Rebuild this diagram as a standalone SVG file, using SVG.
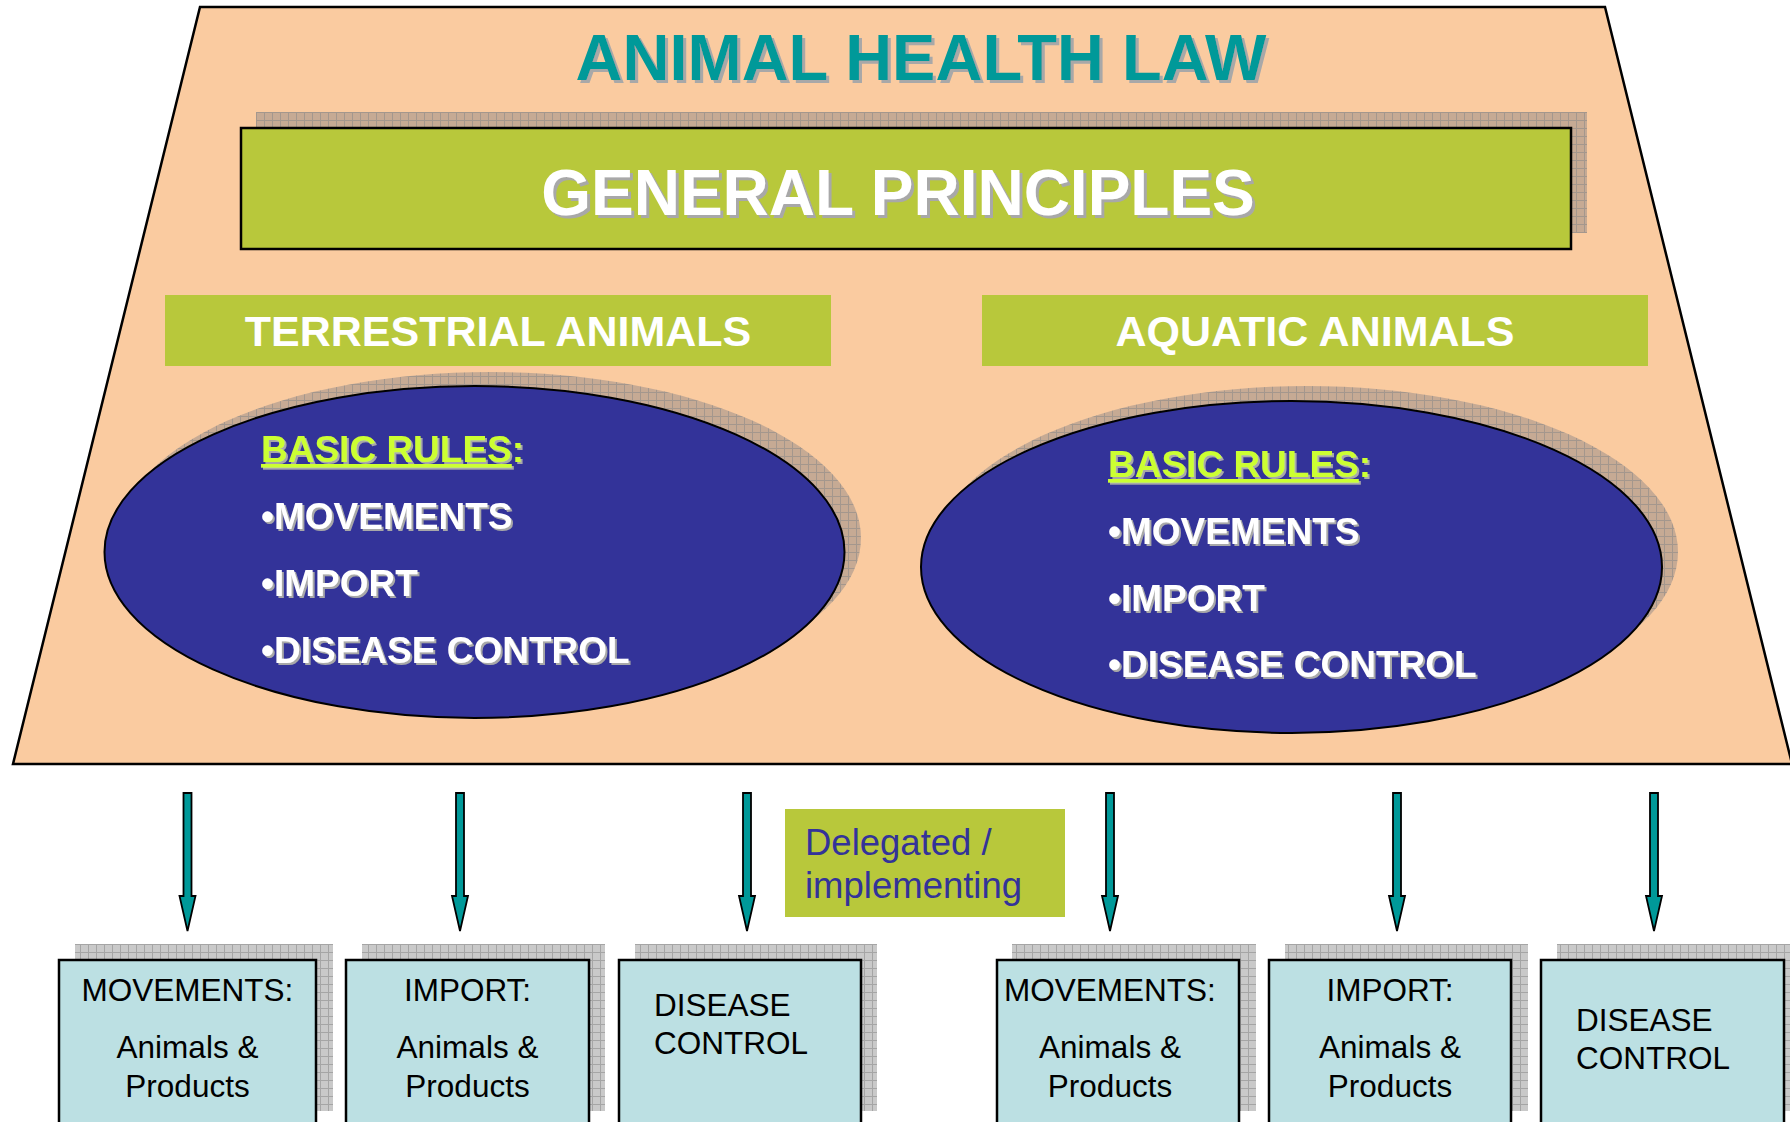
<svg xmlns="http://www.w3.org/2000/svg" width="1790" height="1122" viewBox="0 0 1790 1122">
<defs>
  <pattern id="pTan" width="8" height="8" patternUnits="userSpaceOnUse">
    <rect width="8" height="8" fill="#C6AA94"/>
    <path d="M0 0.5H8M0.5 0V8" stroke="#8E8A88" stroke-width="1" opacity="0.6"/>
  </pattern>
  <pattern id="pGray" width="8" height="8" patternUnits="userSpaceOnUse">
    <rect width="8" height="8" fill="#C9C9C9"/>
    <path d="M0 0.5H8M0.5 0V8" stroke="#8E8E8E" stroke-width="1" opacity="0.6"/>
  </pattern>
  <filter id="ts3" x="-5%" y="-20%" width="110%" height="140%">
    <feFlood flood-color="#A8A8A8"/>
    <feComposite in2="SourceAlpha" operator="in"/>
    <feOffset dx="3" dy="3" result="sh"/>
    <feMerge><feMergeNode in="sh"/><feMergeNode in="SourceGraphic"/></feMerge>
  </filter>
  <filter id="ts2" x="-5%" y="-20%" width="110%" height="140%">
    <feFlood flood-color="#A8A8A8"/>
    <feComposite in2="SourceAlpha" operator="in"/>
    <feOffset dx="2" dy="2" result="sh"/>
    <feMerge><feMergeNode in="sh"/><feMergeNode in="SourceGraphic"/></feMerge>
  </filter>
</defs>
<style>
  .b { font-family: "Liberation Sans", Arial, sans-serif; font-weight: bold; }
  .r { font-family: "Liberation Sans", Arial, sans-serif; }
  .white { fill: #FFFFFF; }
  .green { fill: #B8C83B; }
  .ell { fill: #333399; stroke: #000; stroke-width: 2; }
  .rule { font-size: 37px; fill: #FFFFFF; }
  .hdr { font-size: 37px; fill: #CCFF33; }
  .box { fill: #BCE0E3; stroke: #000; stroke-width: 2.5; }
  .btxt { font-size: 31.5px; fill: #000; }
  .arrow { fill: #009999; stroke: #000; stroke-width: 1.8; stroke-linejoin: miter; }
</style>
<rect width="1790" height="1122" fill="#FFFFFF"/>

<g id="law-frame">
  <polygon points="200,7 1605,7 1792,764 13,764" fill="#FACBA0" stroke="#000" stroke-width="2.5"/>
  <text class="b" x="921" y="80" font-size="65" fill="#009999" text-anchor="middle" filter="url(#ts3)">ANIMAL HEALTH LAW</text>
</g>

<g id="general-principles">
  <rect x="256" y="112" width="1331" height="121" fill="url(#pTan)"/>
  <rect x="241" y="128" width="1330" height="121" class="green" stroke="#000" stroke-width="2.5"/>
  <text class="b white" x="898" y="215" font-size="64" text-anchor="middle" filter="url(#ts3)">GENERAL PRINCIPLES</text>
</g>

<g id="terrestrial">
  <rect x="165" y="295" width="666" height="71" class="green"/>
  <text class="b white" x="498" y="346" font-size="43" text-anchor="middle">TERRESTRIAL ANIMALS</text>
</g>

<g id="aquatic">
  <rect x="982" y="295" width="666" height="71" class="green"/>
  <text class="b white" x="1315" y="346" font-size="43" text-anchor="middle">AQUATIC ANIMALS</text>
</g>

<g id="terrestrial-rules">
  <ellipse cx="490" cy="538" rx="371" ry="166" fill="url(#pTan)"/>
  <ellipse cx="474.5" cy="552" rx="370" ry="166" class="ell"/>
  <g filter="url(#ts2)">
    <text class="b hdr" x="261" y="462"><tspan text-decoration="underline">BASIC RULES</tspan>:</text>
    <text class="b rule" x="261" y="529">•MOVEMENTS</text>
    <text class="b rule" x="261" y="596">•IMPORT</text>
    <text class="b rule" x="261" y="663">•DISEASE CONTROL</text>
  </g>
</g>

<g id="aquatic-rules">
  <ellipse cx="1307" cy="552" rx="371" ry="166" fill="url(#pTan)"/>
  <ellipse cx="1291.5" cy="567" rx="370.5" ry="166" class="ell"/>
  <g filter="url(#ts2)">
    <text class="b hdr" x="1108" y="477"><tspan text-decoration="underline">BASIC RULES</tspan>:</text>
    <text class="b rule" x="1108" y="544">•MOVEMENTS</text>
    <text class="b rule" x="1108" y="611">•IMPORT</text>
    <text class="b rule" x="1108" y="677">•DISEASE CONTROL</text>
  </g>
</g>

<g id="delegated">
  <rect x="785" y="809" width="280" height="108" class="green"/>
  <text class="r" x="805" y="855" font-size="36.5" fill="#333399">Delegated /</text>
  <text class="r" x="805" y="898" font-size="36.5" fill="#333399">implementing</text>
</g>

<g id="connectors">
  <path class="arrow" d="M183.5 793H191.5V896H195.5L187.5 931L179.5 896H183.5Z"/>
  <path class="arrow" d="M456 793H464V896H468L460 931L452 896H456Z"/>
  <path class="arrow" d="M743 793H751V896H755L747 931L739 896H743Z"/>
  <path class="arrow" d="M1106 793H1114V896H1118L1110 931L1102 896H1106Z"/>
  <path class="arrow" d="M1393 793H1401V896H1405L1397 931L1389 896H1393Z"/>
  <path class="arrow" d="M1650 793H1658V896H1662L1654 931L1646 896H1650Z"/>
</g>

<g id="box-terr-movements">
  <rect x="75" y="944" width="258" height="167" fill="url(#pGray)"/>
  <rect x="59" y="960" width="257" height="170" class="box"/>
  <text class="r btxt" x="187.5" y="1001" text-anchor="middle">MOVEMENTS:</text>
  <text class="r btxt" x="187.5" y="1058" text-anchor="middle">Animals &amp;</text>
  <text class="r btxt" x="187.5" y="1097" text-anchor="middle">Products</text>
</g>

<g id="box-terr-import">
  <rect x="362" y="944" width="243" height="167" fill="url(#pGray)"/>
  <rect x="346" y="960" width="243" height="170" class="box"/>
  <text class="r btxt" x="467.5" y="1001" text-anchor="middle">IMPORT:</text>
  <text class="r btxt" x="467.5" y="1058" text-anchor="middle">Animals &amp;</text>
  <text class="r btxt" x="467.5" y="1097" text-anchor="middle">Products</text>
</g>

<g id="box-terr-disease">
  <rect x="635" y="944" width="242" height="167" fill="url(#pGray)"/>
  <rect x="619" y="960" width="242" height="170" class="box"/>
  <text class="r btxt" x="654" y="1016">DISEASE</text>
  <text class="r btxt" x="654" y="1054">CONTROL</text>
</g>

<g id="box-aqua-movements">
  <rect x="1012" y="944" width="244" height="167" fill="url(#pGray)"/>
  <rect x="997" y="960" width="242" height="170" class="box"/>
  <text class="r btxt" x="1110" y="1001" text-anchor="middle">MOVEMENTS:</text>
  <text class="r btxt" x="1110" y="1058" text-anchor="middle">Animals &amp;</text>
  <text class="r btxt" x="1110" y="1097" text-anchor="middle">Products</text>
</g>

<g id="box-aqua-import">
  <rect x="1285" y="944" width="243" height="167" fill="url(#pGray)"/>
  <rect x="1269" y="960" width="242" height="170" class="box"/>
  <text class="r btxt" x="1390" y="1001" text-anchor="middle">IMPORT:</text>
  <text class="r btxt" x="1390" y="1058" text-anchor="middle">Animals &amp;</text>
  <text class="r btxt" x="1390" y="1097" text-anchor="middle">Products</text>
</g>

<g id="box-aqua-disease">
  <rect x="1557" y="944" width="240" height="167" fill="url(#pGray)"/>
  <rect x="1541" y="960" width="243" height="170" class="box"/>
  <text class="r btxt" x="1576" y="1031">DISEASE</text>
  <text class="r btxt" x="1576" y="1069">CONTROL</text>
</g>
</svg>
